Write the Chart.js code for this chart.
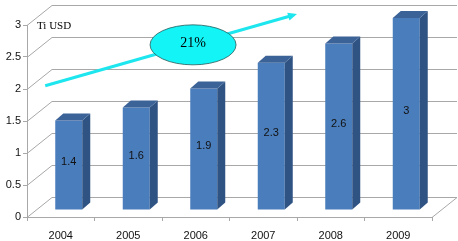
<!DOCTYPE html>
<html>
<head>
<meta charset="utf-8">
<title>Ti USD</title>
<script src="https://cdn.jsdelivr.net/npm/chart.js@4.4.1/dist/chart.umd.min.js"></script>
<style>
html, body { margin: 0; padding: 0; background: #fff; }
</style>
</head>
<body>
<canvas id="barChart" width="458" height="241"></canvas>
<script>
var years = ['2004', '2005', '2006', '2007', '2008', '2009'];
var values = [1.4, 1.6, 1.9, 2.3, 2.6, 3];
var yTicks = [0, 0.5, 1, 1.5, 2, 2.5, 3];
var unitLabel = 'Ti USD';
var growthLabel = '21%';

// fake 3d: how far the back wall / bars sit behind the front plane
var wallDx = 25, wallDy = -20;
var barDx = 8, barDy = -7;
var sideDx = 8, sideDy = -7;

var depthPlugin = {
	id: 'depth',
	beforeDatasetsDraw: function(chart) {
		var ctx = chart.ctx, y = chart.scales.y, a = chart.chartArea;
		ctx.save();
		ctx.strokeStyle = '#a8a8a8';
		ctx.lineWidth = 1;
		yTicks.forEach(function(v) {
			var py = Math.round(y.getPixelForValue(v)) + 0.5;
			ctx.beginPath();
			ctx.moveTo(a.left, py);
			ctx.lineTo(a.left + wallDx, py + wallDy);
			ctx.lineTo(a.right + wallDx, py + wallDy);
			if (v === 0) ctx.lineTo(a.right, py);
			ctx.stroke();
		});
		ctx.restore();
		// bars are pushed back into the box
		ctx.save();
		ctx.translate(barDx, barDy);
	},
	afterDatasetsDraw: function(chart) {
		var ctx = chart.ctx;
		var meta = chart.getDatasetMeta(0);
		meta.data.forEach(function(bar, i) {
			var l = bar.x - bar.width / 2, r = bar.x + bar.width / 2;
			var t = bar.y, b = bar.base;
			ctx.fillStyle = '#2f5383';
			ctx.beginPath();
			ctx.moveTo(r, t);
			ctx.lineTo(r + sideDx, t + sideDy);
			ctx.lineTo(r + sideDx, b + sideDy);
			ctx.lineTo(r, b);
			ctx.closePath();
			ctx.fill();
			ctx.fillStyle = '#3c6398';
			ctx.beginPath();
			ctx.moveTo(l, t);
			ctx.lineTo(l + sideDx, t + sideDy);
			ctx.lineTo(r + sideDx, t + sideDy);
			ctx.lineTo(r, t);
			ctx.closePath();
			ctx.fill();
			ctx.fillStyle = '#111';
			ctx.font = '11px "Liberation Sans", Arial, sans-serif';
			ctx.textAlign = 'center';
			ctx.textBaseline = 'middle';
			ctx.fillText(String(values[i]), bar.x, (t + b) / 2 - 3);
		});
		ctx.restore();
	},
	afterDraw: function(chart) {
		var ctx = chart.ctx, x = chart.scales.x, y = chart.scales.y, a = chart.chartArea;
		ctx.save();
		// unit label
		ctx.fillStyle = '#000';
		ctx.font = '11px "Liberation Serif", "DejaVu Serif", serif';
		ctx.textAlign = 'left';
		ctx.textBaseline = 'middle';
		ctx.fillText(unitLabel, a.left + 10, y.getPixelForValue(2.98));
		// growth arrow
		var x1 = x.getPixelForValue(-0.23), y1 = y.getPixelForValue(2.05);
		var x2 = x.getPixelForValue(3.5), y2 = y.getPixelForValue(3.17);
		var ang = Math.atan2(y2 - y1, x2 - x1);
		ctx.strokeStyle = '#1de6ee';
		ctx.fillStyle = '#1de6ee';
		ctx.lineWidth = 3;
		ctx.beginPath();
		ctx.moveTo(x1, y1);
		ctx.lineTo(x2 - 6 * Math.cos(ang), y2 - 6 * Math.sin(ang));
		ctx.stroke();
		ctx.beginPath();
		ctx.moveTo(x2, y2);
		ctx.lineTo(x2 - 9 * Math.cos(ang) + 4 * Math.sin(ang), y2 - 9 * Math.sin(ang) - 4 * Math.cos(ang));
		ctx.lineTo(x2 - 9 * Math.cos(ang) - 4 * Math.sin(ang), y2 - 9 * Math.sin(ang) + 4 * Math.cos(ang));
		ctx.closePath();
		ctx.fill();
		// ellipse with the growth rate
		var cx = x.getPixelForValue(1.96), cy = y.getPixelForValue(2.69);
		ctx.beginPath();
		ctx.ellipse(cx, cy, 43, 20, 0, 0, Math.PI * 2);
		ctx.fillStyle = '#12f4f6';
		ctx.fill();
		ctx.strokeStyle = '#2b5a5a';
		ctx.lineWidth = 0.8;
		ctx.stroke();
		ctx.fillStyle = '#000';
		ctx.font = '14px "Liberation Serif", "DejaVu Serif", serif';
		ctx.textAlign = 'center';
		ctx.fillText(growthLabel, cx, cy - 2);
		ctx.restore();
	}
};

var ctx = document.getElementById('barChart').getContext('2d');
var chart = new Chart(ctx, {
	type: 'bar',
	data: {
		labels: years,
		datasets: [{
			data: values,
			backgroundColor: '#4a7dbb',
			borderWidth: 0,
			categoryPercentage: 1,
			barPercentage: 0.4
		}]
	},
	options: {
		responsive: false,
		animation: false,
		devicePixelRatio: 1,
		layout: { padding: { top: 25, right: 26, left: 0, bottom: 0 } },
		plugins: { legend: { display: false }, tooltip: { enabled: false } },
		scales: {
			x: {
				afterFit: function(scale) { scale.height = 24; },
				grid: { drawOnChartArea: false, drawTicks: true, tickLength: 4, color: '#a8a8a8' },
				border: { color: '#a8a8a8' },
				ticks: { color: '#111', padding: 8, font: { family: 'Liberation Sans', size: 11 } }
			},
			y: {
				min: 0,
				max: 3,
				afterFit: function(scale) { scale.width = 27; },
				grid: { drawOnChartArea: false, drawTicks: true, tickLength: 4, color: '#a8a8a8' },
				border: { color: '#a8a8a8' },
				ticks: {
					stepSize: 0.5,
					color: '#111',
					padding: 2,
					font: { family: 'Liberation Sans', size: 11 },
					callback: function(value) { return String(value); }
				}
			}
		}
	},
	plugins: [depthPlugin]
});
</script>
</body>
</html>
